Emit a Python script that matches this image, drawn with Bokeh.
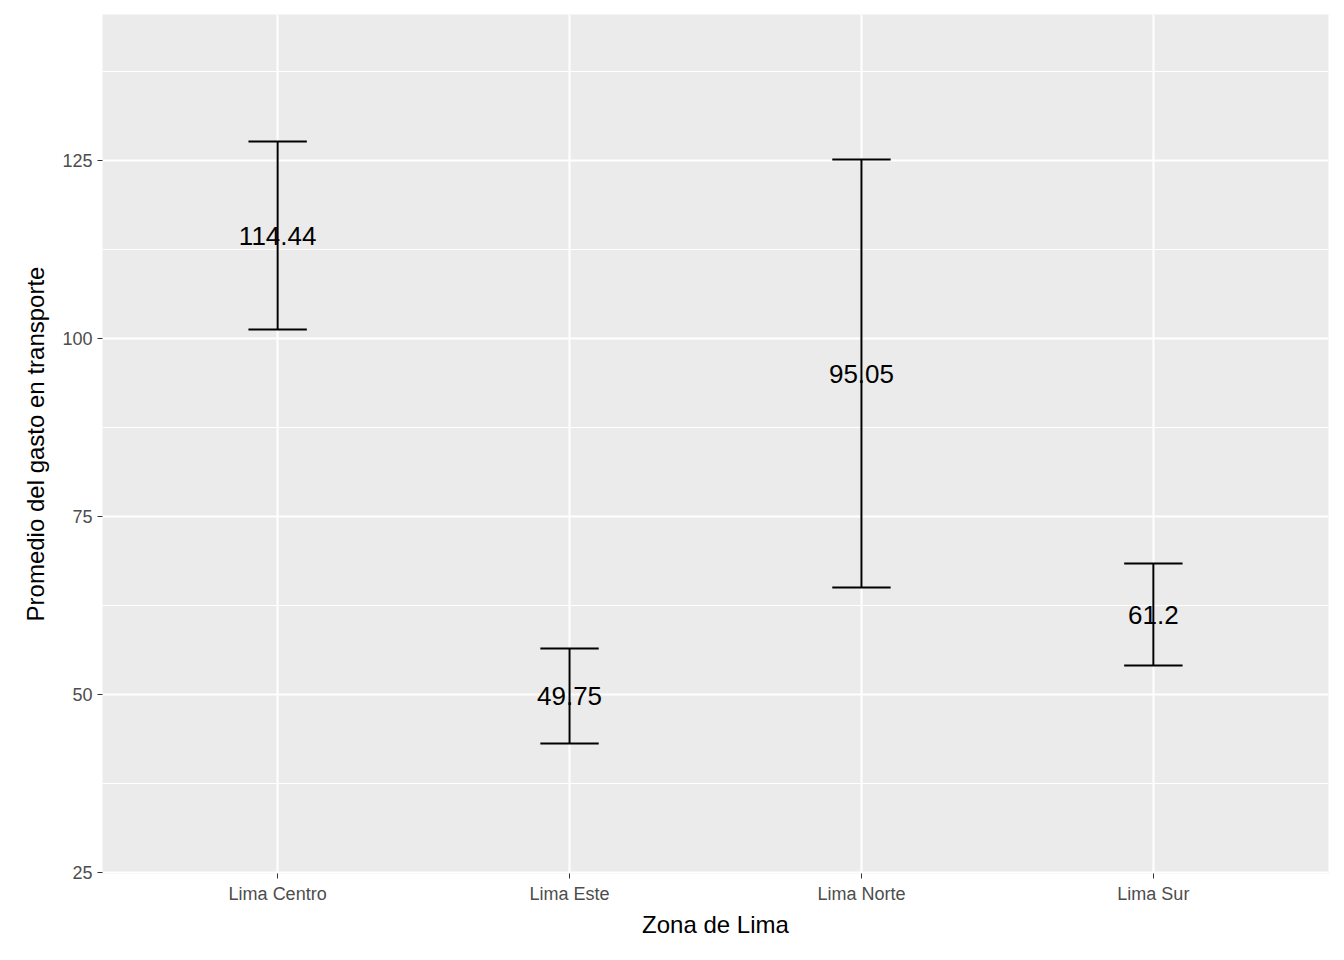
from bokeh.plotting import figure
from bokeh.models import FixedTicker, Range1d, ColumnDataSource
from bokeh.embed import file_html
from bokeh.resources import INLINE
from bokeh.core.properties import value

zonas = ["Lima Centro", "Lima Este", "Lima Norte", "Lima Sur"]
media = [114.44, 49.75, 95.05, 61.2]
inferior = [101.26, 43.12, 65.03, 54.07]
superior = [127.67, 56.46, 125.14, 68.40]
etiquetas = ["114.44", "49.75", "95.05", "61.2"]

x = list(range(len(zonas)))
src = ColumnDataSource(dict(x=x, m=media, lo=inferior, hi=superior, lab=etiquetas,
                            xl=[i - 0.1 for i in x], xr=[i + 0.1 for i in x]))

p = figure(width=1336, height=952, output_backend="svg", toolbar_location=None,
           x_range=Range1d(-0.6, 3.6), y_range=Range1d(24.85, 145.5),
           min_border_left=102, min_border_right=8, min_border_top=14, min_border_bottom=79)
p.background_fill_color = "#EBEBEB"
p.border_fill_color = "white"
p.outline_line_color = None

p.segment(x0="x", x1="x", y0="lo", y1="hi", source=src, line_color="black", line_width=2)
p.segment(x0="xl", x1="xr", y0="hi", y1="hi", source=src, line_color="black", line_width=2)
p.segment(x0="xl", x1="xr", y0="lo", y1="lo", source=src, line_color="black", line_width=2)
p.text(x="x", y="m", text="lab", source=src, text_align="center", text_baseline="middle",
       text_font=value("Liberation Sans"), text_font_size="26px", text_color="black")

p.xaxis.ticker = FixedTicker(ticks=x)
p.xaxis.major_label_overrides = {i: z for i, z in enumerate(zonas)}
p.yaxis.ticker = FixedTicker(ticks=[25, 50, 75, 100, 125], minor_ticks=[37.5, 62.5, 87.5, 112.5, 137.5])
for ax in (p.xaxis, p.yaxis):
    ax.axis_line_color = None
    ax.major_tick_line_color = "#333333"
    ax.major_tick_out = 5
    ax.major_tick_in = 0
    ax.minor_tick_line_color = None
    ax.major_label_text_color = "#4D4D4D"
    ax.major_label_text_font = "Liberation Sans"
    ax.major_label_text_font_size = "18px"
    ax.axis_label_text_font = "Liberation Sans"
    ax.axis_label_text_font_size = "24px"
    ax.axis_label_text_font_style = "normal"
    ax.axis_label_text_color = "black"
p.xaxis.axis_label = "Zona de Lima"
p.yaxis.axis_label = "Promedio del gasto en transporte"
p.xaxis.axis_label_standoff = 4
p.yaxis.axis_label_standoff = 10

p.xgrid.grid_line_color = "white"
p.xgrid.grid_line_width = 2
p.ygrid.grid_line_color = "white"
p.ygrid.grid_line_width = 2
p.ygrid.minor_grid_line_color = "white"
p.ygrid.minor_grid_line_width = 1

open("out.html", "w").write(file_html(p, INLINE))
